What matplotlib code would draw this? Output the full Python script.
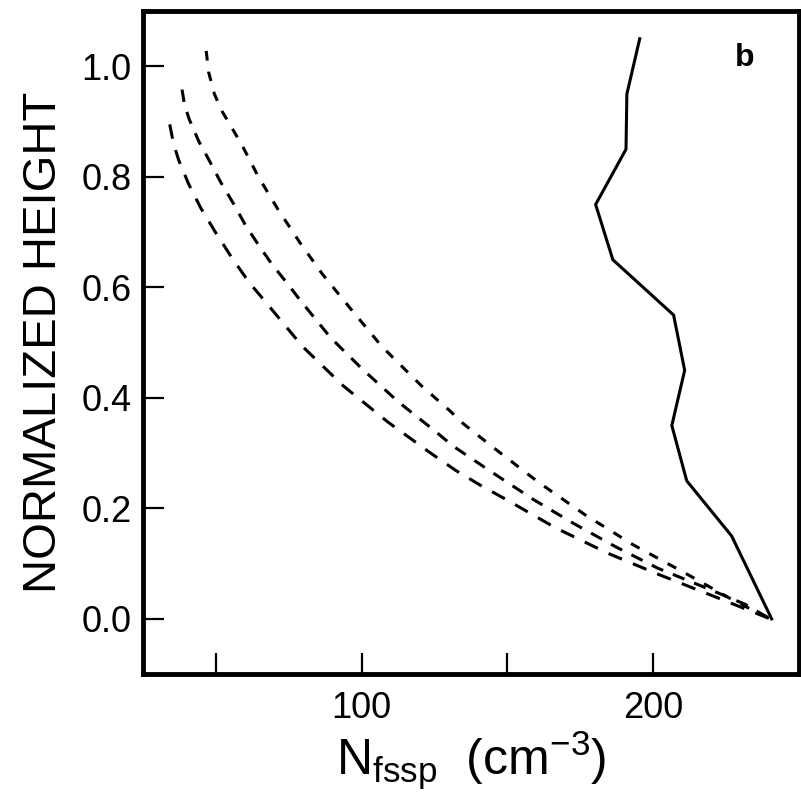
import matplotlib
matplotlib.use('Agg')
import matplotlib.pyplot as plt

plt.rcParams['font.family'] = ['Liberation Sans', 'DejaVu Sans']
plt.rcParams['mathtext.fontset'] = 'custom'
plt.rcParams['mathtext.rm'] = 'Liberation Sans'
plt.rcParams['lines.scale_dashes'] = False

# measured profile (solid)
meas_y = [1.05, 0.95, 0.85, 0.75, 0.65, 0.55, 0.45, 0.35, 0.25, 0.15, 0.0]
meas_x = [195.3, 190.9, 190.6, 180.2, 186.1, 206.9, 210.7, 206.3, 211.4, 226.8, 240.5]

# model curves (dashed), outer -> inner
top_y = [1.028, 0.99, 0.95, 0.919, 0.859, 0.799, 0.741, 0.681, 0.624, 0.574,
         0.494, 0.422, 0.377, 0.354, 0.310, 0.247, 0.188, 0.134, 0.084, 0.033, 0.0]
top_x = [46.8, 47.6, 49.6, 52.2, 58.9, 64.8, 71.4, 78.9, 86.6, 94.3,
         106.8, 120.5, 130.2, 134.7, 145.2, 160.7, 176.7, 193.1, 210.5, 227.6, 240.0]

mid_y = [0.958, 0.93, 0.904, 0.865, 0.827, 0.791, 0.752, 0.714, 0.676, 0.642,
         0.609, 0.576, 0.509, 0.451, 0.392, 0.339, 0.313, 0.265, 0.216, 0.172,
         0.131, 0.092, 0.060, 0.027, 0.0]
mid_x = [38.5, 39.4, 41.0, 44.2, 48.1, 51.7, 56.1, 60.1, 64.8, 69.3,
         74.3, 79.1, 89.4, 100.5, 112.8, 125.4, 131.3, 144.8, 158.9, 172.9,
         186.9, 201.4, 216.2, 231.2, 240.0]

bot_y = [0.895, 0.86, 0.83, 0.788, 0.743, 0.696, 0.652, 0.609, 0.570, 0.493,
         0.422, 0.356, 0.297, 0.268, 0.241, 0.216, 0.165, 0.119, 0.080, 0.042, 0.0]
bot_x = [34.3, 35.6, 37.4, 40.7, 45.0, 50.4, 55.8, 61.5, 67.7, 79.8,
         93.7, 109.1, 124.5, 132.5, 141.0, 149.6, 166.4, 184.3, 202.0, 220.2, 240.0]

x_ticks = [50, 100, 150, 200]
x_ticklabels = ['', '100', '', '200']
y_ticks = [0.0, 0.2, 0.4, 0.6, 0.8, 1.0]
y_ticklabels = ['0.0', '0.2', '0.4', '0.6', '0.8', '1.0']

fig = plt.figure(figsize=(8.01, 7.95), dpi=100)
ax = fig.add_axes([0.178, 0.152, 0.820, 0.834])

ax.plot(meas_x, meas_y, color='black', linewidth=2.2, solid_joinstyle='miter')
ax.plot(top_x, top_y, color='black', linewidth=2.2, dashes=(7.0, 8.0))
ax.plot(mid_x, mid_y, color='black', linewidth=2.2, dashes=(9.0, 7.5))
ax.plot(bot_x, bot_y, color='black', linewidth=2.2, dashes=(10.5, 8.5))

ax.set_xlim(25, 250)
ax.set_ylim(-0.1, 1.1)
ax.set_xticks(x_ticks)
ax.set_xticklabels(x_ticklabels)
ax.set_yticks(y_ticks)
ax.set_yticklabels(y_ticklabels)
ax.tick_params(axis='x', direction='in', length=15, width=1.6, labelsize=26, pad=12)
ax.tick_params(axis='y', direction='in', length=15, width=1.6, labelsize=26, pad=8)

for spine in ax.spines.values():
    spine.set_linewidth(3.5)

ax.set_xlabel(r'N$_{\mathrm{fssp}}$  (cm$^{-3}$)', fontsize=36, labelpad=2)
ax.set_ylabel('NORMALIZED HEIGHT', fontsize=34, labelpad=11)

ax.text(0.916, 0.93, 'b', transform=ax.transAxes, fontsize=23,
        fontweight='bold', ha='center', va='center')

fig.savefig('out.png', dpi=100)
